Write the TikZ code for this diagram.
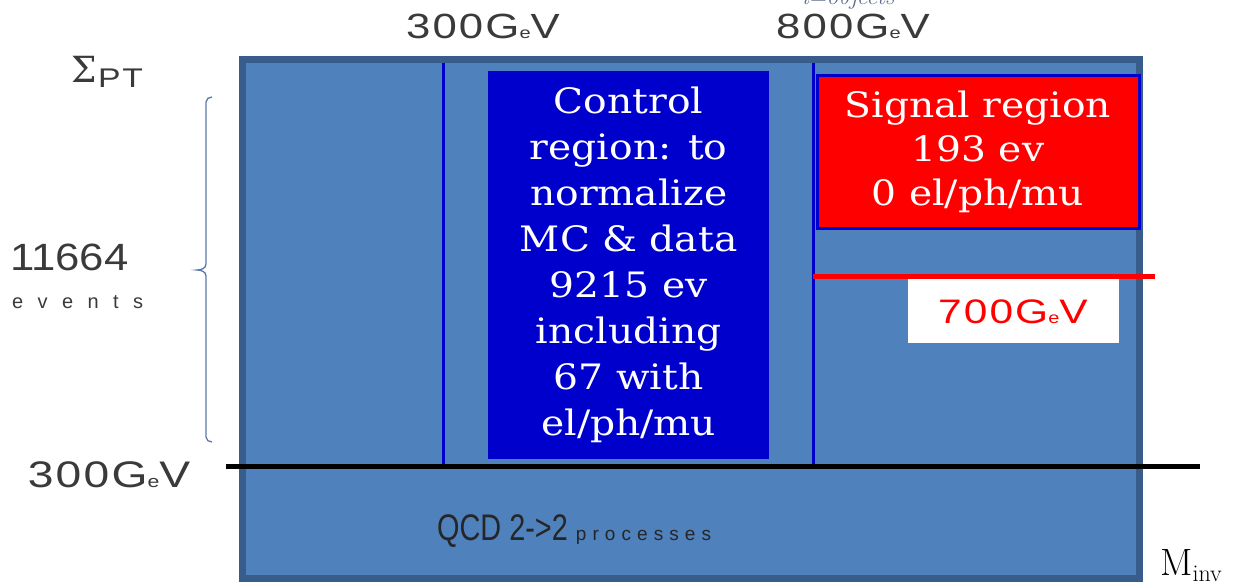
\documentclass[tikz,border=0pt]{standalone}
\usepackage{fontspec}
\newfontfamily\gothic[FakeStretch=1.25,LetterSpace=6]{Liberation Sans}
\newfontfamily\gothicnum[FakeStretch=1.15]{Liberation Sans}
\newfontfamily\narrowsans[FakeStretch=0.78]{Liberation Sans}
\newfontfamily\spacedsans[LetterSpace=72]{Liberation Sans}
\newfontfamily\procsans[LetterSpace=32]{Liberation Sans}
\newfontfamily\boxserif[FakeStretch=1.12]{DejaVu Serif}
\newfontfamily\sigmafont{DejaVu Serif}
\newcommand\gevtxt[2]{#1G{\fontsize{#2}{#2}\selectfont e}V}
\definecolor{mainfill}{HTML}{4F81BD}
\definecolor{mainedge}{HTML}{385D8A}
\definecolor{ctrlblue}{HTML}{0000CC}
\definecolor{labgray}{HTML}{3A3A3A}
\definecolor{bracecol}{HTML}{5A78A8}
\definecolor{objcol}{HTML}{5A6B8C}
\tikzset{
  mainbox/.style={fill=mainfill, draw=mainedge, line width=7pt},
  vline/.style={draw=ctrlblue, line width=3pt},
  ctrlbox/.style={fill=ctrlblue, inner sep=0pt, text=white, align=center,
    font=\boxserif\fontsize{35}{46}\selectfont},
  sigbox/.style={fill=red, draw=ctrlblue, line width=3pt, inner sep=0pt, text=white, align=center,
    font=\boxserif\fontsize{35}{44}\selectfont},
  gevlab/.style={text=labgray, inner sep=0pt, font=\gothic\fontsize{35}{35}\selectfont},
}
\begin{document}
\begin{tikzpicture}[x=1pt,y=-1pt]
\useasboundingbox (0,0) rectangle (1245,582);
% main area
\draw[mainbox] (242.5,59.5) rectangle (1139.5,578.5);
% vertical separators
\draw[vline] (443,63) -- (443,466);
\draw[vline] (813.5,63) -- (813.5,466);
% control region
\node[ctrlbox, minimum width=281pt, minimum height=388pt, anchor=north west] (ctrl) at (488,71)
  {Control\\region: to\\normalize\\MC \& data\\9215 ev\\including\\67 with\\el/ph/mu};
% signal region
\node[sigbox, minimum width=322pt, minimum height=153pt, anchor=north west] (sig) at (815.5,73.5)
  {Signal region\\193 ev\\0 el/ph/mu};
% red cut line
\draw[red, line width=5pt] (813,276) -- (1155,276);
% 700 GeV label box
\node[fill=white, minimum width=211pt, minimum height=64pt, anchor=north west, inner sep=0pt] (sevbox) at (908,279) {};
\node[gevlab, text=red, font=\gothic\fontsize{34}{34}\selectfont] (sev) at (1013,312) {\gevtxt{700}{16}};
% black cut line
\draw[black, line width=5pt] (226,466) -- (1200,466);
% brace
\draw[bracecol, line width=1.3pt] (212,97) to[out=180,in=90] (206,102) -- (206,264)
  to[out=-90,in=0] (197,270) to[out=0,in=90] (206,276) -- (206,437) to[out=-90,in=180] (212,442);
% axis labels
\node[gevlab, anchor=base] (t300) at (483,38) {\gevtxt{300}{16}};
\node[gevlab, anchor=base] (t800) at (853,38) {\gevtxt{800}{16}};
\node[anchor=base, inner sep=0pt, text=objcol] (iobj) at (848,4) {\fontsize{24}{24}\selectfont\itshape i=objects};
\node[gevlab, anchor=base, font=\gothic\fontsize{37}{37}\selectfont] (l300) at (109,487) {\gevtxt{300}{17}};
\node[anchor=base west, inner sep=0pt, text=labgray, font=\sigmafont\fontsize{36}{36}\selectfont] (sigma) at (71,82) {Σ};
\node[anchor=base west, inner sep=0pt, text=labgray] (pt) at (98,87) {\gothic\fontsize{27}{27}\selectfont PT};
\node[anchor=base west, inner sep=0pt, text=labgray] (num) at (10,270) {\gothicnum\fontsize{38}{38}\selectfont 11664};
\node[anchor=base west, inner sep=0pt, text=labgray] (ev) at (12,308) {\spacedsans\fontsize{20}{20}\selectfont events};
\node[anchor=base west, inner sep=0pt, text=black!85] (qcd) at (437,540)
  {\narrowsans\fontsize{37}{37}\selectfont QCD 2->2 {\procsans\fontsize{19}{19}\selectfont processes}};
\node[anchor=base west, inner sep=0pt] (minv) at (1160,575)
  {\fontsize{38}{38}\selectfont M\raisebox{-6pt}{\fontsize{24}{24}\selectfont inv}};
\end{tikzpicture}
\end{document}
